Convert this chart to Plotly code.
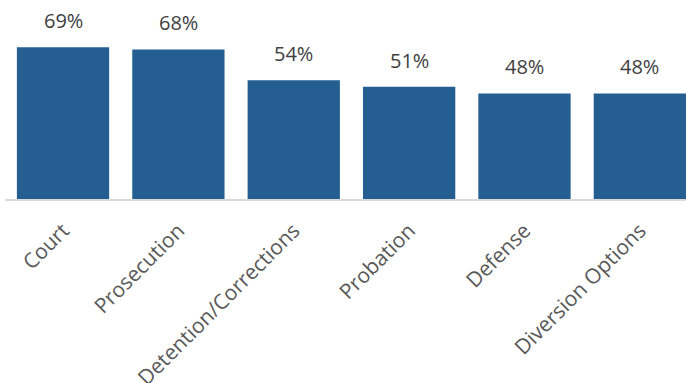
import plotly.graph_objects as go

categories = ["Court", "Prosecution", "Detention/Corrections", "Probation", "Defense", "Diversion Options"]
values = [69, 68, 54, 51, 48, 48]
labels = [f"{v}%" for v in values]

BAR_COLOR = "#255E91"
FONT = "Open Sans"

fig = go.Figure()
fig.add_trace(go.Bar(
    x=categories,
    y=values,
    marker=dict(color=BAR_COLOR, line=dict(width=0)),
    hoverinfo="skip",
))

# value labels above each bar
for c, v, t in zip(categories, values, labels):
    fig.add_annotation(
        x=c, y=v, text=t, showarrow=False,
        yanchor="bottom", yshift=11,
        font=dict(family=FONT, size=20, color="#404040"),
    )

fig.update_layout(
    width=686, height=383,
    margin=dict(l=5, r=0, t=23, b=184),
    paper_bgcolor="white", plot_bgcolor="white",
    bargap=0.2,
    showlegend=False,
    font=dict(family=FONT, size=21, color="#595959"),
    xaxis=dict(
        range=[-0.503, 5.40],
        automargin=False,
        showline=True, linecolor="#d9d9d9", linewidth=2,
        ticks="", tickangle=-45, ticklabelstandoff=9,
        tickfont=dict(family=FONT, size=21, color="#595959"),
        showgrid=False, zeroline=False,
    ),
    yaxis=dict(
        range=[0, 80], visible=False, showgrid=False, zeroline=False,
    ),
)

fig.write_html("out.html")
